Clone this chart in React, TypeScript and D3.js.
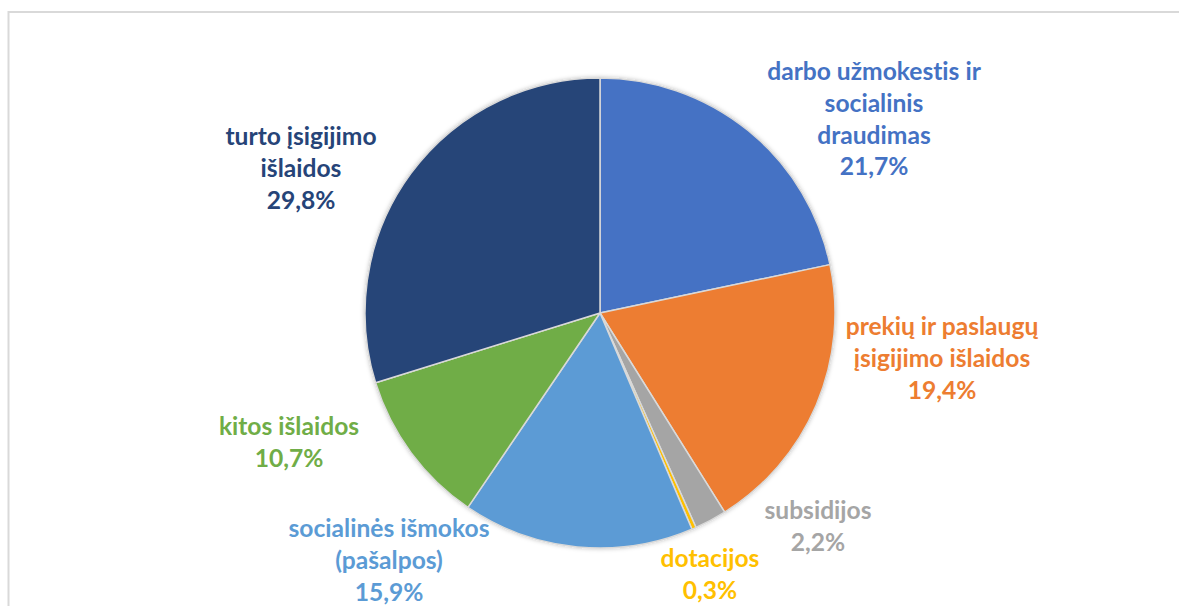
import React from "react";
import * as d3 from "d3";

const categories = [
  "darbo užmokestis ir socialinis draudimas",
  "prekių ir paslaugų įsigijimo išlaidos",
  "subsidijos",
  "dotacijos",
  "socialinės išmokos (pašalpos)",
  "kitos išlaidos",
  "turto įsigijimo išlaidos",
];
const values = [21.7, 19.4, 2.2, 0.3, 15.9, 10.7, 29.8];
const colors = ["#4472C4", "#ED7D31", "#A5A5A5", "#FFC000", "#5B9BD5", "#70AD47", "#264478"];
const labelLines = [
  ["darbo užmokestis ir", "socialinis", "draudimas"],
  ["prekių ir paslaugų", "įsigijimo išlaidos"],
  ["subsidijos"],
  ["dotacijos"],
  ["socialinės išmokos", "(pašalpos)"],
  ["kitos išlaidos"],
  ["turto įsigijimo", "išlaidos"],
];
// label anchor: center x and first baseline y
const labelPos: [number, number][] = [
  [874, 80],
  [942, 335],
  [818, 519],
  [710, 567],
  [389, 537],
  [289, 435],
  [301, 145],
];

const W = 1179;
const H = 606;
const cx = 600;
const cy = 313;
const R = 235;
const LH = 31.8;

const fmt = (v: number) => v.toFixed(1).replace(".", ",") + "%";

export default function App() {
  const pie = d3.pie<number>().sort(null).value((d) => d)(values);
  const arc = d3.arc<d3.PieArcDatum<number>>().innerRadius(0).outerRadius(R);
  return (
    <svg width={W} height={H} style={{ position: "absolute", left: 0, top: 0, background: "#fff" }}>
      <defs>
        <filter id="sh" x="-10%" y="-10%" width="120%" height="120%">
          <feDropShadow dx="0" dy="0" stdDeviation="2" floodColor="#000" floodOpacity="0.25" />
        </filter>
      </defs>
      <line x1={8.5} y1={11} x2={8.5} y2={H} stroke="#d9d9d9" strokeWidth={2} />
      <line x1={8} y1={12} x2={W} y2={12} stroke="#d9d9d9" strokeWidth={2} />
      <g transform={`translate(${cx},${cy})`} filter="url(#sh)">
        {pie.map((d, i) => (
          <path key={categories[i]} d={arc(d) || ""} fill={colors[i]} stroke="#d9d9d9" strokeWidth={1.5} strokeLinejoin="round" />
        ))}
      </g>
      {labelLines.map((lines, i) => {
        const [x, y] = labelPos[i];
        const all = [...lines, fmt(values[i])];
        return (
          <text
            key={categories[i]}
            x={x}
            y={y}
            textAnchor="middle"
            fill={colors[i]}
            style={{
              fontFamily: "Lato, 'Open Sans', sans-serif",
              fontWeight: 700,
              fontSize: 24.6,
              fontVariantLigatures: "none",
            }}
          >
            {all.map((t, j) => (
              <tspan key={j} x={x} y={y + j * LH}>
                {t}
              </tspan>
            ))}
          </text>
        );
      })}
    </svg>
  );
}
